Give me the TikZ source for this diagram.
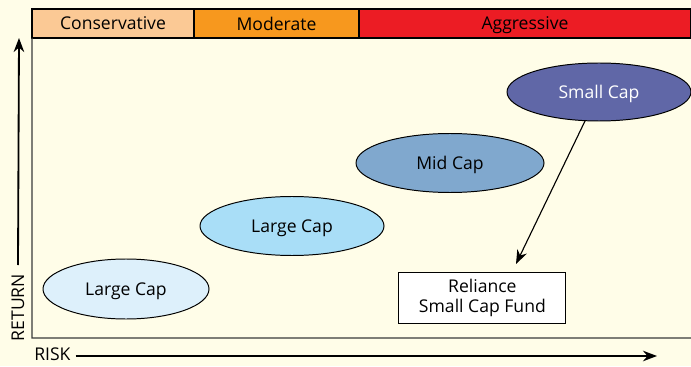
\documentclass[tikz,border=0pt]{standalone}
\usepackage{fontspec}
\setmainfont{Open Sans}
\usetikzlibrary{shapes.geometric,arrows.meta}

\definecolor{paper}{HTML}{FFFDE8}
\definecolor{consfill}{HTML}{FBC995}
\definecolor{modfill}{HTML}{F7981E}
\definecolor{aggfill}{HTML}{EC1C24}
\definecolor{lcafill}{HTML}{DDF0FB}
\definecolor{lcbfill}{HTML}{A9DEF7}
\definecolor{mcfill}{HTML}{80A8CE}
\definecolor{scfill}{HTML}{6067A7}
\definecolor{framecol}{HTML}{3A3A3A}

\begin{document}
\begin{tikzpicture}[
	font=\fontsize{12.5}{14.2}\selectfont,
	>={Stealth[length=10pt,width=7.5pt]},
	band/.style={draw, line width=0.9pt, minimum height=0.725cm, inner sep=0pt, outer sep=0pt, text depth=0pt},
	capoval/.style={ellipse, draw, line width=0.7pt, inner sep=0pt, outer sep=0pt, minimum height=1.475cm, text depth=0pt},
	fund/.style={draw, line width=0.7pt, fill=white, minimum width=4.175cm, minimum height=1.275cm, align=center, inner sep=0pt},
	axis/.style={->, line width=1.3pt}
]
	\fill[paper] (0,0) rectangle (17.275,9.15);
	\useasboundingbox (0,0) rectangle (17.275,9.15);

	\node[band, fill=consfill, minimum width=4.05cm] (cons) at (2.825,8.5625) {Conservative};
	\node[band, fill=modfill, minimum width=4.125cm] (mod) at (6.9125,8.5625) {Moderate};
	\node[band, fill=aggfill, minimum width=8.3cm] (agg) at (13.125,8.5625) {Aggressive};

	\coordinate (corner) at (0.8,0.7);
	\draw[framecol, line width=0.8pt] (cons.south west) -- (corner) -- (corner -| agg.south east);

	\node[capoval, fill=lcafill, minimum width=4.15cm, minimum height=1.5cm] (lca) at (3.15,1.925) {Large Cap};
	\node[capoval, fill=lcbfill, minimum width=4.6cm] (lcb) at (7.3,3.5) {Large Cap};
	\node[capoval, fill=mcfill, minimum width=4.7cm] (mc) at (11.25,5.075) {Mid Cap};
	\node[capoval, fill=scfill, text=white, minimum width=4.6cm, minimum height=1.45cm] (sc) at (14.975,6.85) {Small Cap};

	\node[fund] (fund) at (12.06,1.69) {Reliance\\Small Cap Fund};
	\coordinate (fundtip) at (12.9,2.55);
	\path [->, line width=0.8pt] (sc) edge node {} (fundtip);

	\node[rotate=90, inner sep=0pt] (ret) at (0.45,1.46) {RETURN};
	\coordinate (rettip) at (0.475,8.2);
	\path [axis] (ret.east |- 0,2.525) edge node {} (rettip);

	\node[inner sep=0pt] (risk) at (1.31,0.3) {RISK};
	\coordinate (risktip) at (16.425,0.25);
	\path [axis] (risk.east |- risktip) ++(0.12,0) edge node {} (risktip);
\end{tikzpicture}
\end{document}
